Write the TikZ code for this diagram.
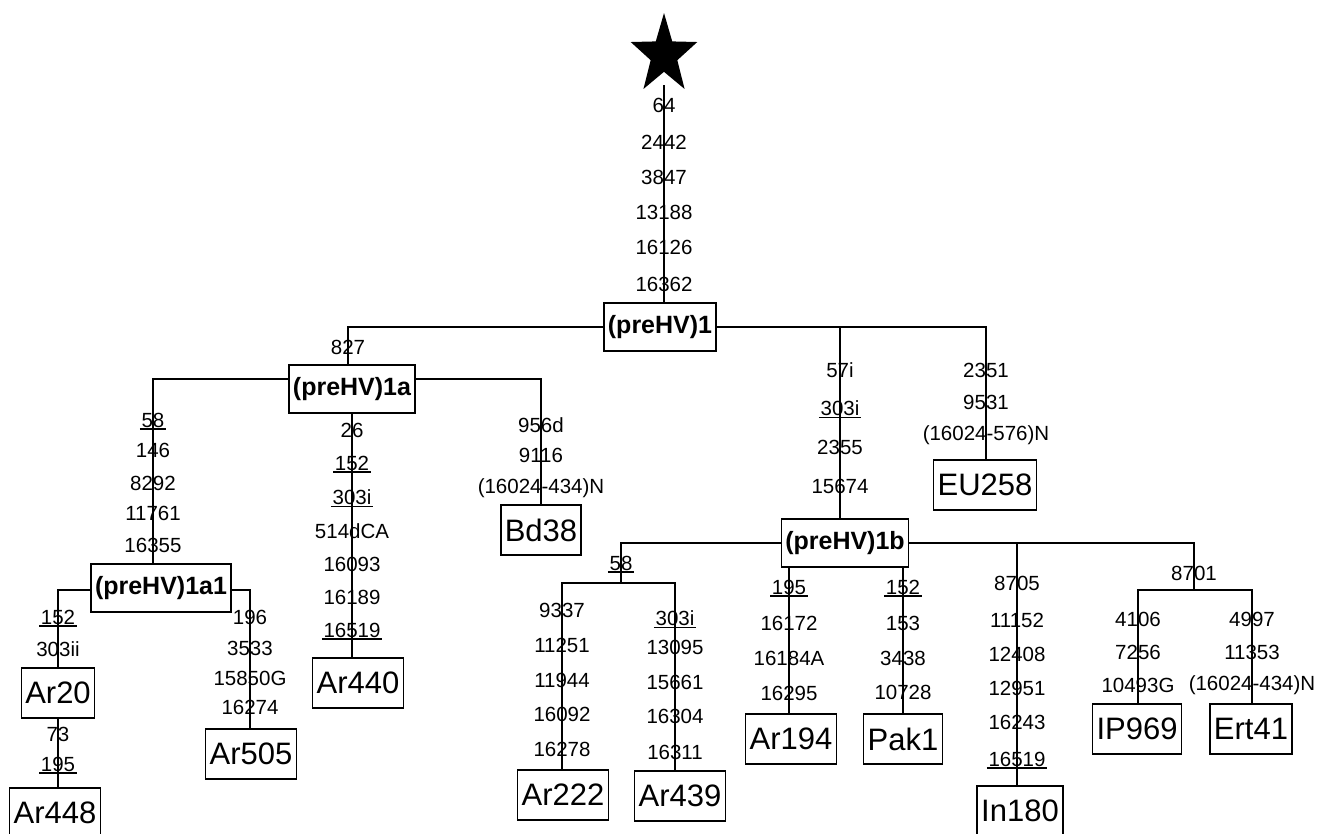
\documentclass[tikz,border=0pt]{standalone}
\usepackage{fontspec}
\setmainfont{Liberation Sans}
\def\mutsize{\fontsize{20.5}{23}\selectfont}
\def\hapsize{\fontsize{31}{35}\selectfont}
\def\grpsize{\bfseries\fontsize{25}{29}\selectfont}
\tikzset{
  mut/.style={font=\mutsize, inner sep=1pt},
  rec/.style={mut, append after command={(\tikzlastnode.south west) edge (\tikzlastnode.south east)}},
  hap/.style={draw, fill=white, font=\hapsize, inner xsep=4pt, minimum height=50},
  grp/.style={draw, fill=white, font=\grpsize, inner xsep=4pt, minimum height=48},
}
% mutations along one branch: \muts{x}{text/y/style, ...}
\newcommand\muts[2]{\foreach \txt/\yy/\sty in {#2}{\node[\sty] (m#1-\yy) at (#1,\yy) {\txt};}}

\begin{document}
\begin{tikzpicture}[x=1pt,y=-1pt,line width=1.5pt]
\useasboundingbox (0,0) rectangle (1317,833);
% star and trunk
\fill[shift={(664,55)},yscale=1.2] (-90:35) \foreach \a in {-54,18,90,162} {-- (\a:14) -- (\a+36:35)} -- (234:14) -- cycle;
\coordinate (root) at (664,85);
\node[grp] (g1) at (660,327) {(preHV)1};
\draw (root) -- (root |- g1.north);
\muts{664}{64/105/mut, 2442/142/mut, 3847/177/mut, 13188/212/mut, 16126/247/mut, 16362/284/mut}

% (preHV)1
\node[grp] (g1a) at (352,389) {(preHV)1a};
\node[grp] (g1b) at (845,543) {(preHV)1b};
\node[hap] (eu258) at (985,485) {EU258};
\coordinate (b827) at (348,327);
\coordinate (b57) at (840,327);
\coordinate (b2351) at (986,327);
\draw (g1.west) -- (b827) -- (b827 |- g1a.north);
\draw (g1.east) -- (b2351) -- (b2351 |- eu258.north);
\draw (b57) -- (b57 |- g1b.north);
\muts{348}{827/347/mut}
\muts{840}{57i/370/mut, 303i/408/rec, 2355/447/mut, 15674/486/mut}
\muts{986}{2351/370/mut, 9531/402/mut, (16024-576)N/435/mut}

% (preHV)1a
\node[grp] (g1a1) at (161,588) {(preHV)1a1};
\node[hap] (ar440) at (358,683) {Ar440};
\node[hap] (bd38) at (541,530) {Bd38};
\coordinate (b58) at (153,379);
\coordinate (b956) at (541,379);
\draw (b58 |- g1a1.north) -- (b58) -- (b58 -| g1a.west);
\draw (b956 -| g1a.east) -- (b956) -- (b956 |- bd38.north);
\draw (g1a.south) -- (g1a.south |- ar440.north);
\muts{153}{58/420/rec, 146/450/mut, 8292/483/mut, 11761/513/mut, 16355/545/mut}
\muts{352}{26/430/mut, 152/463/rec, 303i/497/rec, 514dCA/531/mut, 16093/564/mut, 16189/597/mut, 16519/630/rec}
\muts{541}{956d/425/mut, 9116/455/mut, (16024-434)N/488/mut}

% (preHV)1a1
\node[hap] (ar20) at (58,693) {Ar20};
\node[hap] (ar448) at (55,813) {Ar448};
\node[hap] (ar505) at (251,754) {Ar505};
\coordinate (b152) at (58,590);
\coordinate (b196) at (250,590);
\draw (b152 |- ar20.north) -- (b152) -- (b152 -| g1a1.west);
\draw (b196 -| g1a1.east) -- (b196) -- (b196 |- ar505.north);
\draw (ar20.south) -- (ar20.south |- ar448.north);
\muts{58}{152/617/rec, 303ii/649/mut, 73/734/mut, 195/764/rec}
\muts{250}{196/617/mut, 3533/648/mut, 15850G/678/mut, 16274/707/mut}

% (preHV)1b
\node[hap] (ar222) at (563,795) {Ar222};
\node[hap] (ar439) at (680,796) {Ar439};
\node[hap] (ar194) at (791,739) {Ar194};
\node[hap] (pak1) at (903,739) {Pak1};
\node[hap] (in180) at (1020,811) {In180};
\node[hap] (ip969) at (1137,729) {IP969};
\node[hap] (ert41) at (1251,729) {Ert41};
\coordinate (b58b) at (621,543);
\coordinate (j58) at (621,583);
\coordinate (b9337) at (562,583);
\coordinate (b303) at (675,583);
\coordinate (b195) at (789,543);
\coordinate (b152b) at (903,543);
\coordinate (b8705) at (1017,543);
\coordinate (b8701) at (1194,543);
\coordinate (j8701) at (1194,590);
\coordinate (b4106) at (1138,590);
\coordinate (b4997) at (1252,590);
\draw (g1b.west) -- (b58b) -- (j58);
\draw (b9337 |- ar222.north) -- (b9337) -- (b303) -- (b303 |- ar439.north);
\draw (b195 |- g1b.south) -- (b195 |- ar194.north);
\draw (b152b |- g1b.south) -- (b152b |- pak1.north);
\draw (g1b.east) -- (b8701) -- (j8701);
\draw (b8705) -- (b8705 |- in180.north);
\draw (b4106 |- ip969.north) -- (b4106) -- (b4997) -- (b4997 |- ert41.north);
\muts{621}{58/563/rec}
\muts{562}{9337/610/mut, 11251/645/mut, 11944/680/mut, 16092/714/mut, 16278/749/mut}
\muts{675}{303i/618/rec, 13095/647/mut, 15661/682/mut, 16304/716/mut, 16311/752/mut}
\muts{789}{195/587/rec, 16172/623/mut, 16184A/658/mut, 16295/693/mut}
\muts{903}{152/587/rec, 153/623/mut, 3438/658/mut, 10728/692/mut}
\muts{1017}{8705/583/mut, 11152/620/mut, 12408/654/mut, 12951/688/mut, 16243/722/mut, 16519/759/rec}
\muts{1194}{8701/573/mut}
\muts{1138}{4106/619/mut, 7256/652/mut, 10493G/685/mut}
\muts{1252}{4997/619/mut, 11353/652/mut, (16024-434)N/685/mut}
\end{tikzpicture}
\end{document}
